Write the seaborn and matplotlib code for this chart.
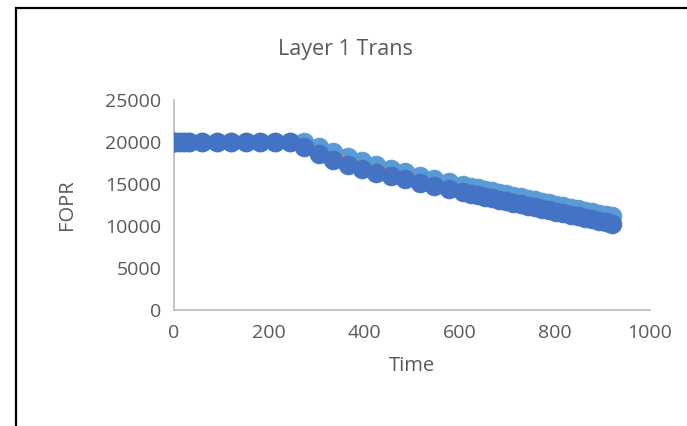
import matplotlib
matplotlib.use("Agg")
import matplotlib.pyplot as plt
from matplotlib.patches import Rectangle
import seaborn as sns
import pandas as pd

# Simulation report times (days): monthly, then finer steps later on
time = [0, 1, 10, 20, 31, 59, 90, 120, 151, 181, 212, 243, 273, 304, 334,
        365, 396, 424, 455, 485, 516, 546, 577,
        608, 623, 638, 653, 668, 683, 698, 713, 728, 743, 758, 773, 788,
        803, 818, 833, 848, 863, 878, 893, 908, 920]

# Field oil production rate for three cases
fopr_case_a = [20000] * 12 + [
    19950, 19350, 18750, 18200, 17700, 17250, 16800, 16400, 16000, 15620,
    15240,
    14860, 14680, 14500, 14320, 14145, 13970, 13790, 13610, 13430, 13250,
    13075, 12900, 12720, 12540, 12360, 12185, 12010, 11830, 11650, 11470,
    11290, 11150]
fopr_case_b = [20000] * 12 + [
    19850, 19200, 18550, 18000, 17500, 17050, 16600, 16200, 15800, 15420,
    15040,
    14660, 14480, 14300, 14120, 13945, 13770, 13590, 13410, 13230, 13050,
    12875, 12700, 12520, 12340, 12160, 11985, 11810, 11630, 11450, 11270,
    11090, 10950]
fopr_case_c = [20000] * 12 + [
    19400, 18600, 17900, 17300, 16800, 16350, 15950, 15550, 15150, 14780,
    14400,
    14020, 13840, 13660, 13480, 13300, 13120, 12940, 12760, 12580, 12400,
    12220, 12040, 11860, 11680, 11500, 11320, 11140, 10960, 10780, 10600,
    10420, 10280]

x_ticks = [0, 200, 400, 600, 800, 1000]
y_ticks = [0, 5000, 10000, 15000, 20000, 25000]

df = pd.DataFrame({"Time": time, "A": fopr_case_a, "B": fopr_case_b,
                   "C": fopr_case_c})

sns.set_theme(style="white")
plt.rcParams["font.family"] = ["Open Sans", "DejaVu Sans"]

W, H = 687, 426
fig = plt.figure(figsize=(W / 100, H / 100), dpi=100)
ax = fig.add_axes([174 / W, 1 - 310 / H, 476 / W, 210 / H])

light = "#5B9BD5"
orange = "#ED7D31"
dark = "#4472C4"

sns.lineplot(data=df, x="Time", y="A", ax=ax, color=light, lw=2, zorder=2)
sns.scatterplot(data=df, x="Time", y="A", ax=ax, color=light, s=185,
                edgecolor=light, linewidth=0.5, zorder=3)
sns.lineplot(data=df, x="Time", y="B", ax=ax, color=orange, lw=2, zorder=4)
sns.scatterplot(data=df, x="Time", y="C", ax=ax, color=dark, s=185,
                edgecolor=dark, linewidth=0.5, zorder=5)

ax.set_xlim(0, 1000)
ax.set_ylim(0, 25000)
ax.set_xticks(x_ticks)
ax.set_yticks(y_ticks)
ax.set_xticklabels([str(v) for v in x_ticks])
ax.set_yticklabels([str(v) for v in y_ticks])

tick_color = "#595959"
ax.tick_params(axis="both", length=0, labelsize=14, colors=tick_color)
ax.tick_params(axis="x", pad=10)
ax.tick_params(axis="y", pad=9)

for side in ["top", "right"]:
    ax.spines[side].set_visible(False)
for side in ["left", "bottom"]:
    ax.spines[side].set_color("#BFBFBF")
    ax.spines[side].set_linewidth(1.3)

ax.set_xlabel("Time", fontsize=14.5, color=tick_color)
ax.set_ylabel("FOPR", fontsize=14.5, color=tick_color)
ax.xaxis.set_label_coords(0.5, -(366 - 310) / 210)
ax.yaxis.set_label_coords((67 - 174) / 476, 0.5)
ax.xaxis.label.set_va("center")
ax.yaxis.label.set_va("center")

fig.text(345 / W, 1 - 50 / H, "Layer 1 Trans", ha="center", va="center",
         fontsize=15.5, color=tick_color)

# Chart area border
fig.add_artist(Rectangle((16 / W, -0.05), (800 - 16) / W, (426 - 8) / H + 0.05,
                         transform=fig.transFigure, fill=False,
                         edgecolor="black", linewidth=1.6))

fig.savefig("out.png", dpi=100, facecolor="white")
